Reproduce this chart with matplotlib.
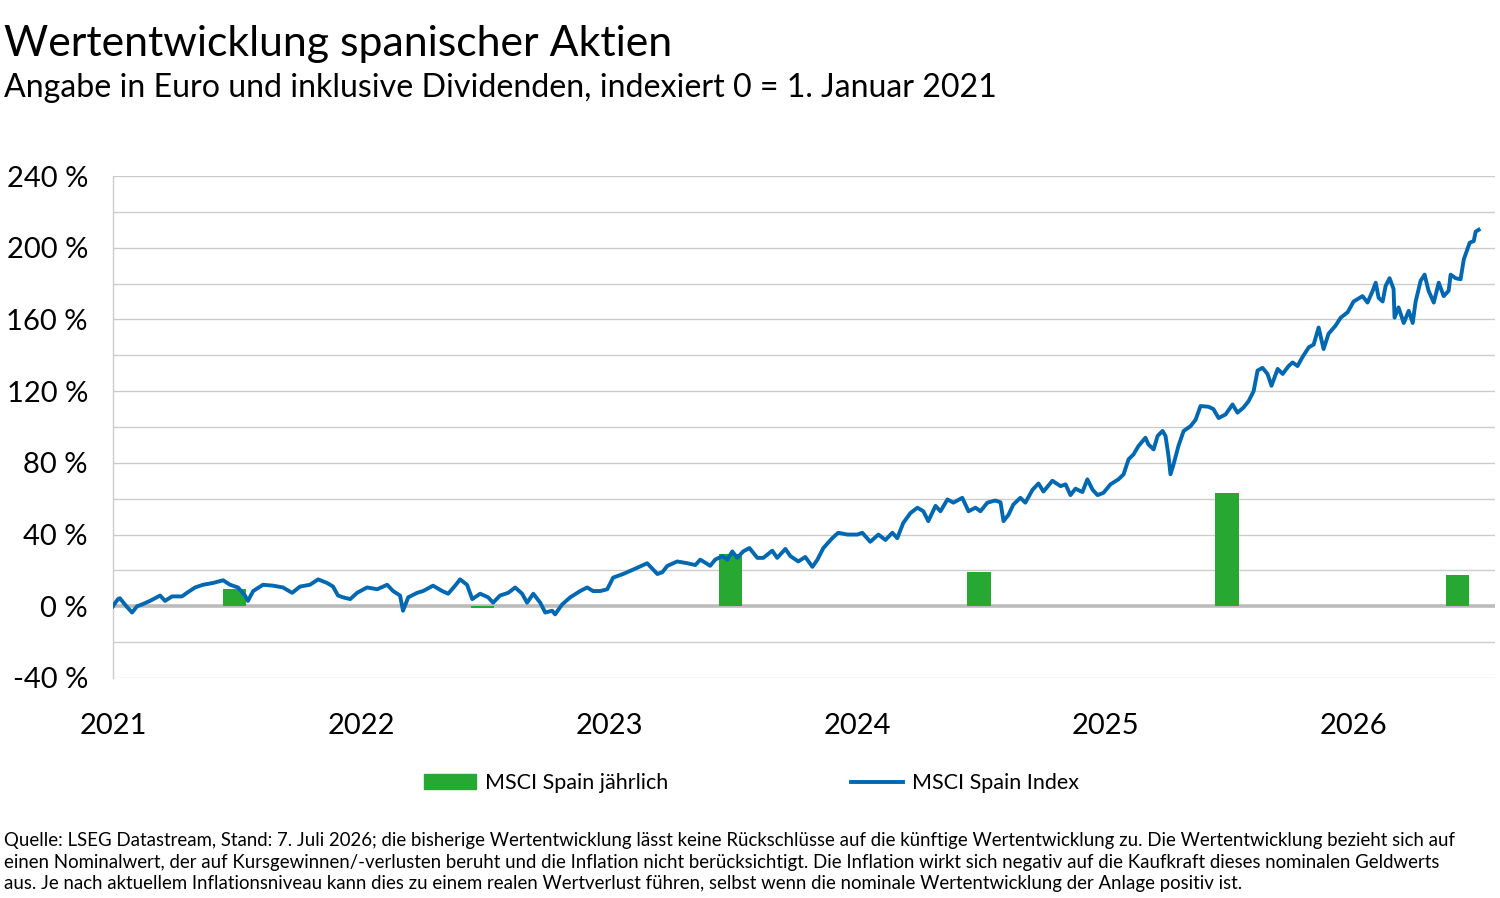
import numpy as np
import matplotlib
matplotlib.use("Agg")
import matplotlib.pyplot as plt
from matplotlib.patches import Patch
from matplotlib.lines import Line2D

plt.rcParams['font.family'] = ['Lato', 'DejaVu Sans']

# MSCI Spain Index, years since 1 Jan 2021 and performance in %
index_t = [
    0.000, 0.020, 0.028, 0.048, 0.077, 0.097, 0.117, 0.149, 0.190, 0.210,
    0.238, 0.278, 0.298, 0.331, 0.363, 0.403, 0.444, 0.472, 0.504, 0.532,
    0.544, 0.565, 0.605, 0.645, 0.685, 0.722, 0.754, 0.794, 0.827, 0.863,
    0.887, 0.907, 0.927, 0.956, 0.984, 1.024, 1.065, 1.105, 1.129, 1.157,
    1.169, 1.190, 1.226, 1.250, 1.290, 1.327, 1.351, 1.379, 1.399, 1.427,
    1.448, 1.480, 1.512, 1.532, 1.560, 1.593, 1.621, 1.649, 1.669, 1.694,
    1.722, 1.742, 1.770, 1.782, 1.810, 1.843, 1.883, 1.911, 1.935, 1.964,
    1.992, 2.016, 2.056, 2.097, 2.153, 2.194, 2.214, 2.234, 2.274, 2.315,
    2.347, 2.367, 2.407, 2.427, 2.456, 2.476, 2.496, 2.516, 2.540, 2.565,
    2.597, 2.621, 2.657, 2.677, 2.710, 2.730, 2.762, 2.790, 2.819, 2.839,
    2.863, 2.899, 2.923, 2.960, 3.000, 3.020, 3.052, 3.085, 3.113, 3.141,
    3.161, 3.185, 3.214, 3.242, 3.266, 3.286, 3.315, 3.335, 3.363, 3.387,
    3.423, 3.448, 3.476, 3.496, 3.524, 3.556, 3.577, 3.589, 3.609, 3.629,
    3.657, 3.677, 3.706, 3.730, 3.750, 3.786, 3.819, 3.839, 3.859, 3.879,
    3.907, 3.927, 3.948, 3.968, 3.992, 4.020, 4.052, 4.073, 4.093, 4.113,
    4.133, 4.161, 4.173, 4.194, 4.210, 4.230, 4.242, 4.254, 4.262, 4.274,
    4.294, 4.315, 4.343, 4.363, 4.383, 4.415, 4.435, 4.456, 4.484, 4.512,
    4.532, 4.556, 4.577, 4.597, 4.613, 4.633, 4.653, 4.669, 4.694, 4.714,
    4.738, 4.754, 4.774, 4.794, 4.819, 4.839, 4.859, 4.879, 4.899, 4.927,
    4.948, 4.976, 5.000, 5.036, 5.056, 5.077, 5.089, 5.101, 5.117, 5.129,
    5.145, 5.161, 5.165, 5.181, 5.202, 5.222, 5.238, 5.250, 5.270, 5.286,
    5.302, 5.323, 5.343, 5.363, 5.383, 5.391, 5.411, 5.431, 5.444, 5.468,
    5.484, 5.492, 5.504,
]
index_val = [
    0.0, 4.0, 4.5, 1.0, -3.5, 0.0, 1.0, 3.0, 6.0, 3.0,
    5.5, 5.5, 7.5, 10.5, 12.0, 13.0, 14.5, 12.0, 10.5, 6.0,
    3.0, 8.5, 12.0, 11.5, 10.5, 7.5, 11.0, 12.0, 15.0, 13.0,
    11.0, 6.0, 5.0, 4.0, 7.5, 10.5, 9.5, 12.0, 8.5, 6.0,
    -2.5, 5.0, 7.5, 8.5, 11.5, 8.5, 7.0, 11.5, 15.0, 12.0,
    4.0, 7.0, 5.0, 2.0, 6.0, 7.5, 10.5, 7.0, 2.0, 7.0,
    2.0, -3.5, -2.5, -4.5, 1.0, 5.0, 8.5, 10.5, 8.5, 8.5,
    9.5, 16.0, 18.0, 20.5, 24.0, 18.0, 19.0, 22.5, 25.0, 24.0,
    23.0, 26.0, 22.6, 26.0, 28.0, 26.0, 30.6, 27.0, 30.6, 32.5,
    27.0, 27.0, 31.0, 27.0, 32.0, 28.0, 25.0, 27.5, 22.0, 26.0,
    32.5, 38.0, 41.0, 40.0, 40.0, 41.0, 36.0, 40.0, 37.0, 41.0,
    38.0, 46.5, 52.0, 55.0, 53.0, 47.5, 56.0, 53.0, 59.6, 57.8,
    60.5, 53.0, 55.0, 53.0, 57.8, 59.0, 58.0, 47.5, 51.0, 56.8,
    60.5, 57.8, 65.0, 68.5, 64.0, 70.0, 67.0, 68.0, 62.0, 65.6,
    63.7, 70.8, 65.0, 62.0, 63.3, 68.0, 70.8, 73.6, 82.0, 84.7,
    89.4, 94.0, 90.3, 87.5, 95.0, 97.8, 95.0, 83.8, 73.6, 79.0,
    89.4, 97.8, 100.5, 104.0, 111.7, 111.3, 110.0, 105.0, 107.0, 112.6,
    108.0, 110.8, 114.5, 120.0, 131.5, 133.0, 129.6, 123.0, 132.4, 129.6,
    134.0, 136.0, 134.0, 139.0, 144.4, 146.0, 155.5, 143.5, 152.0, 156.5,
    161.0, 164.0, 170.0, 173.0, 169.4, 176.0, 180.5, 172.0, 170.0, 178.7,
    183.0, 177.0, 161.0, 166.7, 158.0, 164.8, 158.0, 170.0, 181.5, 185.0,
    176.0, 169.4, 180.5, 173.0, 176.0, 185.0, 183.0, 182.4, 193.5, 202.8,
    203.7, 209.0, 210.0,
]

# yearly performance (bars)
bar_t = [0.49, 1.49, 2.49, 3.49, 4.49, 5.42]
bar_val = [9.8, -1.0, 29.0, 19.0, 63.0, 17.5]

years = [2021, 2022, 2023, 2024, 2025, 2026]
yticks = [-40, 0, 40, 80, 120, 160, 200, 240]

blue = '#0067b1'
green = '#27a833'
grid = '#cccccc'

start = 2021
x_line = start + np.array(index_t)
x_bar = start + np.array(bar_t)

fig = plt.figure(figsize=(15, 8.98), dpi=100)
ax = fig.add_axes([0.0753, 0.245, 0.9214, 0.559])

for g in range(-40, 241, 20):
    if g != 0:
        ax.axhline(g, color=grid, lw=1.0, zorder=0)
ax.axhline(0, color='#bbbbbb', lw=2.6, zorder=1)

ax.bar(x_bar, bar_val, width=0.094, color=green, zorder=2)
ax.plot(x_line, index_val, color=blue, lw=2.8, zorder=3, solid_joinstyle='round')

ax.set_xlim(2021, 2026.57)
ax.set_ylim(-40, 240)
ax.set_yticks(yticks)
ax.set_yticklabels(['{} %'.format(v) for v in yticks])
ax.set_xticks(years)
ax.set_xticklabels([str(y) for y in years])
ax.tick_params(axis='y', length=0, pad=18, labelsize=21)
ax.tick_params(axis='x', length=0, pad=25, labelsize=21)

for s in ['top', 'right', 'bottom']:
    ax.spines[s].set_visible(False)
ax.spines['left'].set_color(grid)
ax.spines['left'].set_linewidth(1.0)

fig.text(0.003, 0.951, 'Wertentwicklung spanischer Aktien', fontsize=30.8, va='center', ha='left')
fig.text(0.003, 0.902, 'Angabe in Euro und inklusive Dividenden, indexiert 0 = 1. Januar 2021',
         fontsize=23.1, va='center', ha='left')

handles = [Patch(color=green, label='MSCI Spain jährlich'),
           Line2D([0], [0], color=blue, lw=2.8, label='MSCI Spain Index')]
fig.legend(handles=handles, loc='center', bbox_to_anchor=(0.501, 0.128), ncol=2,
           frameon=False, fontsize=15.5, handlelength=2.4, handletextpad=0.42,
           columnspacing=8.5)

foot = ('Quelle: LSEG Datastream, Stand: 7. Juli 2026; die bisherige Wertentwicklung lässt keine Rückschlüsse auf die künftige Wertentwicklung zu. Die Wertentwicklung bezieht sich auf\n'
        'einen Nominalwert, der auf Kursgewinnen/-verlusten beruht und die Inflation nicht berücksichtigt. Die Inflation wirkt sich negativ auf die Kaufkraft dieses nominalen Geldwerts\n'
        'aus. Je nach aktuellem Inflationsniveau kann dies zu einem realen Wertverlust führen, selbst wenn die nominale Wertentwicklung der Anlage positiv ist.')
fig.text(0.003, 0.040, foot, fontsize=13.4, va='center', ha='left', linespacing=1.3)

fig.savefig('out.png', dpi=100)
